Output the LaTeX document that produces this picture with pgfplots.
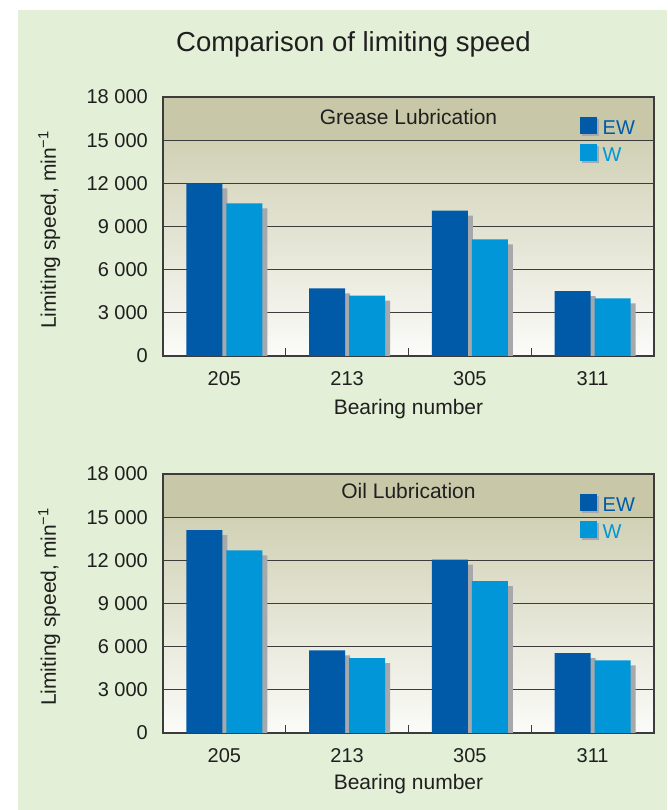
\documentclass[border=0pt]{standalone}
\usepackage{pgfplots}
\pgfplotsset{compat=1.18}
\usepackage{fontspec}
\setmainfont{Liberation Sans}
\definecolor{bggreen}{HTML}{E3EFD6}
\definecolor{ewblue}{HTML}{005AA8}
\definecolor{wblue}{HTML}{0096D7}
\definecolor{shadowgray}{HTML}{A6A8AB}
\definecolor{bandtop}{HTML}{C8C8A8}
\definecolor{gradtop}{HTML}{D1D1B6}
\definecolor{gradbot}{HTML}{FBFBF9}
\definecolor{gridc}{HTML}{3C3C3C}
\pgfdeclareverticalshading{skfbg}{100bp}{color(0bp)=(gradbot); color(25bp)=(gradbot); color(66.66bp)=(gradtop); color(66.67bp)=(bandtop); color(100bp)=(bandtop)}
\pgfplotsset{
  ewleg/.style={legend image code/.code={\fill[shadowgray] (2.3pt,-7.3pt) rectangle (18.3pt,8.7pt); \fill[ewblue] (0pt,-5pt) rectangle (16pt,11pt);}},
  wleg/.style={legend image code/.code={\fill[shadowgray] (2.3pt,-7.3pt) rectangle (18.3pt,8.7pt); \fill[wblue] (0pt,-5pt) rectangle (16pt,11pt);}},
  ewbar/.style={ybar, bar width=36pt, bar shift=-20pt, fill=ewblue, draw=none, forget plot,
    preaction={fill=shadowgray, transform canvas={xshift=5pt,yshift=-5pt}}},
  wbar/.style={ybar, bar width=36pt, bar shift=20pt, fill=wblue, draw=none, forget plot,
    preaction={fill=shadowgray, transform canvas={xshift=5pt,yshift=-5pt}}},
  skf/.style={
    scale only axis, width=491pt, height=259pt,
    xmin=-0.5, xmax=3.5, ymin=0, ymax=18000,
    axis background/.style={shading=skfbg},
    scaled y ticks=false,
    xtick={0,1,2,3}, xticklabels={205,213,305,311},
    minor xtick={0.5,1.5,2.5},
    major tick length=0pt,
    minor tick length=7.5pt,
    minor tick style={gridc, line width=1pt},
    xtick pos=bottom, ytick pos=left,
    tick align=inside,
    ytick={0,3000,6000,9000,12000,15000,18000},
    yticklabels={{0},{3 000},{6 000},{9 000},{12 000},{15 000},{18 000}},
    ymajorgrids, major grid style={gridc, line width=1pt},
    axis line style={gridc, line width=1.2pt},
    tick label style={font=\fontsize{20}{24}\selectfont, text=black!88},
    yticklabel style={anchor=east, inner sep=0pt, xshift=-15pt},
    xticklabel style={anchor=base, inner sep=0pt, yshift=-30pt},
    ylabel={Limiting speed, min\textsuperscript{−1}},
    ylabel style={at={(axis description cs:-0.218,0.487)}, anchor=base, font=\fontsize{21}{25}\selectfont, text=black!88},
    xlabel={Bearing number},
    xlabel style={at={(axis description cs:0.5,0)}, anchor=base, font=\fontsize{21}{25}\selectfont, text=black!88},
    legend style={draw=none, fill=none, inner sep=0pt, outer sep=0pt,
      at={(axis description cs:0.8493,0.9228)}, anchor=north west,
      row sep=8.1pt, column sep=4pt, nodes={inner sep=0pt, outer sep=0pt},
      font=\fontsize{20}{24}\selectfont},
    legend cell align=left,
  }
}
\begin{document}
\begin{tikzpicture}
\fill[white] (0pt,0pt) rectangle (667pt,810pt);
\fill[bggreen] (18pt,0pt) rectangle (667pt,800pt);
\node[anchor=base, font=\fontsize{27.5}{32}\selectfont, text=black!88] at (353.5pt,758pt) {Comparison of limiting speed};

\begin{axis}[skf, at={(163pt,454pt)}, anchor=south west, xlabel style={yshift=-59pt}]
\addplot[ewbar] coordinates {(0,12000) (1,4700) (2,10100) (3,4500)};
\addplot[wbar] coordinates {(0,10600) (1,4200) (2,8100) (3,4000)};
\addlegendimage{ewleg}
\addlegendentry{\textcolor{ewblue}{EW}}
\addlegendimage{wleg}
\addlegendentry{\textcolor{wblue}{W}}
\node[anchor=base, font=\fontsize{21}{25}\selectfont, text=black!88] at (axis description cs:0.5,0.8946) {Grease Lubrication};
\end{axis}

\begin{axis}[skf, at={(163pt,77pt)}, anchor=south west, xlabel style={yshift=-56.3pt}]
\addplot[ewbar] coordinates {(0,14100) (1,5750) (2,12050) (3,5550)};
\addplot[wbar] coordinates {(0,12700) (1,5200) (2,10550) (3,5050)};
\addlegendimage{ewleg}
\addlegendentry{\textcolor{ewblue}{EW}}
\addlegendimage{wleg}
\addlegendentry{\textcolor{wblue}{W}}
\node[anchor=base, font=\fontsize{21}{25}\selectfont, text=black!88] at (axis description cs:0.5,0.906) {Oil Lubrication};
\end{axis}
\end{tikzpicture}
\end{document}
